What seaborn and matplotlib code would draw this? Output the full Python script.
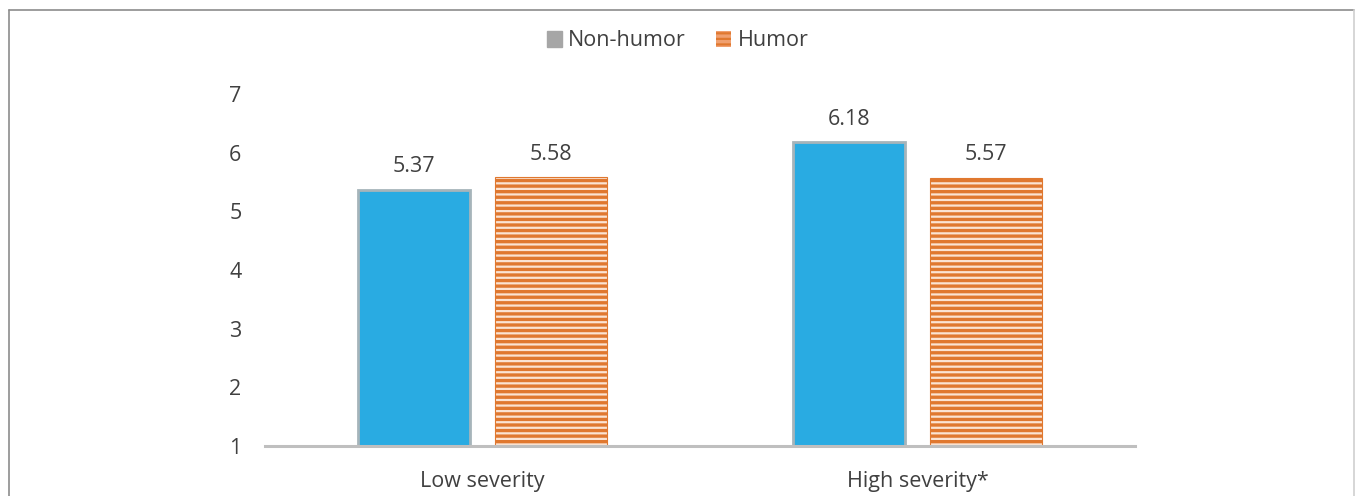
import matplotlib
matplotlib.use("Agg")
import matplotlib.pyplot as plt
import seaborn as sns
import pandas as pd
from matplotlib.patches import Patch
from matplotlib.lines import Line2D

categories = ["Low severity", "High severity*"]
series_names = ["Non-humor", "Humor"]
non_humor = [5.37, 6.18]
humor = [5.58, 5.57]
yticks = [1, 2, 3, 4, 5, 6, 7]

sns.set_theme(style="white")
plt.rcParams['font.family'] = ['Open Sans', 'DejaVu Sans']
plt.rcParams['hatch.linewidth'] = 2.4

text_color = "#404040"
blue = "#29ABE2"
orange = "#E0782F"
peach = "#FBE3D2"
fs = 15.5

df = pd.DataFrame({
    "category": categories * 2,
    "series": [series_names[0]] * 2 + [series_names[1]] * 2,
    "value": non_humor + humor,
})

fig = plt.figure(figsize=(13.55, 4.96), dpi=100)
ax = fig.add_axes([265 / 1355, 50 / 496, 870 / 1355, 352 / 496])

sns.barplot(data=df, x="category", y="value", hue="series",
            palette={series_names[0]: blue, series_names[1]: peach},
            width=0.632, gap=0.185, saturation=1, ax=ax, legend=False)

containers = ax.containers
for bar in containers[0]:
    bar.set_facecolor(blue)
    bar.set_edgecolor("#A6B4BA")
    bar.set_linewidth(2.0)
for bar in containers[1]:
    bar.set_facecolor(peach)
    bar.set_edgecolor(orange)
    bar.set_hatch("---")
    bar.set_linewidth(0.8)

for c in containers:
    ax.bar_label(c, fmt="%.2f", padding=9, fontsize=fs, color=text_color)

ax.set_ylim(1, 7)
ax.set_yticks(yticks)
ax.set_yticklabels([str(t) for t in yticks])
ax.set_xlim(-0.5, 1.5)
ax.set_xlabel("")
ax.set_ylabel("")
for s in ["top", "right", "left"]:
    ax.spines[s].set_visible(False)
ax.spines["bottom"].set_color("#BFBFBF")
ax.spines["bottom"].set_linewidth(2.2)
ax.tick_params(axis="both", length=0, labelsize=fs, labelcolor=text_color)
ax.tick_params(axis="y", pad=17)
ax.tick_params(axis="x", pad=18)

handles = [Patch(facecolor="#A6A6A6", edgecolor="#A6A6A6"),
           Patch(facecolor=orange, edgecolor="#F0A070", hatch="---", linewidth=0)]
leg = fig.legend(handles, series_names, loc="center", bbox_to_anchor=(0.5, 1 - 41 / 496),
                 ncol=2, frameon=False, fontsize=fs, handlelength=0.7, handleheight=0.7,
                 handletextpad=0.3, columnspacing=1.4)
for t in leg.get_texts():
    t.set_color(text_color)

# outer frame
fig.add_artist(Line2D([9 / 1355, 9 / 1355], [0, 1 - 10 / 496], transform=fig.transFigure, color="#8C8C8C", lw=1.2))
fig.add_artist(Line2D([9 / 1355, 1354 / 1355], [1 - 10 / 496, 1 - 10 / 496], transform=fig.transFigure, color="#8C8C8C", lw=1.2))
fig.add_artist(Line2D([1354 / 1355, 1354 / 1355], [0, 1 - 10 / 496], transform=fig.transFigure, color="#D0D0D0", lw=1.2))

fig.savefig("out.png", dpi=100)
